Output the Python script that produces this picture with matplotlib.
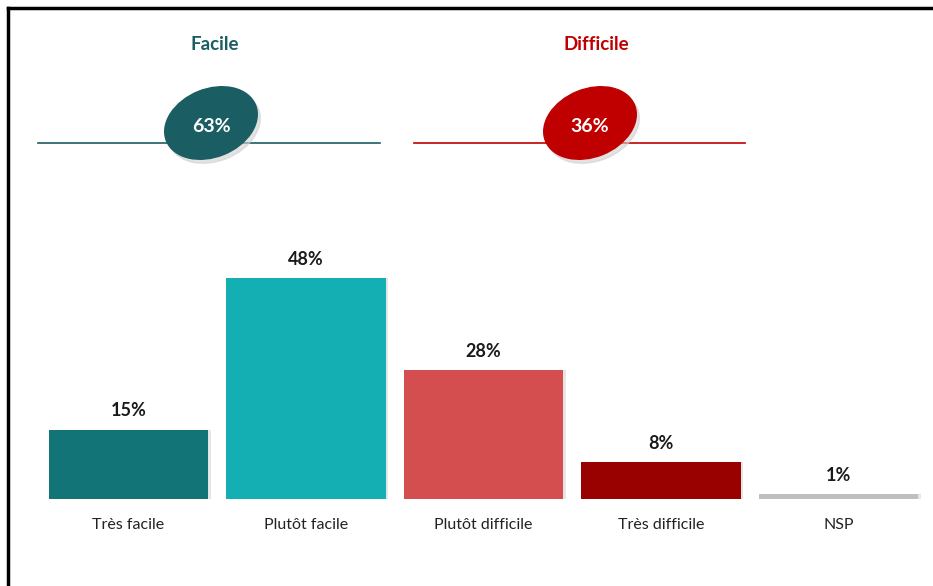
import matplotlib.pyplot as plt
from matplotlib.patches import Ellipse

plt.rcParams['font.family'] = ['Lato', 'DejaVu Sans']

# --- Data ---
categories = ['Très facile', 'Plutôt facile', 'Plutôt difficile', 'Très difficile', 'NSP']
values = [15, 48, 28, 8, 1]
bar_colors = ['#137478', '#14afb3', '#d44e50', '#990000', '#bfbfbf']

groups = ['Facile', 'Difficile']
group_totals = [63, 36]
group_colors = ['#1a5e63', '#c00000']

W, H = 933, 586
fig = plt.figure(figsize=(W / 100, H / 100), dpi=100)

# --- Bars ---
ax = fig.add_axes([39.75 / W, 87 / H, 887.5 / W, 253 / H])
x = range(len(categories))
# soft shadow
ax.bar([i + 0.012 for i in x], values, width=0.9, color='#e6e6e6', zorder=1)
ax.bar(x, values, width=0.9, color=bar_colors, zorder=2)
for i, v in enumerate(values):
    ax.text(i, v + 2.3, f'{v}%', ha='center', va='bottom', fontsize=13,
            fontweight='bold', color='#1a1a1a')
ax.set_xlim(-0.5, 4.5)
ax.set_ylim(0, 55)
ax.set_xticks(list(x))
ax.set_xticklabels(categories, fontsize=11.5, color='#222222')
ax.tick_params(axis='x', length=0, pad=14)
ax.set_yticks([])
for s in ax.spines.values():
    s.set_visible(False)
ax.patch.set_alpha(0)

# --- Top summary (pixel coordinates) ---
top = fig.add_axes([0, 0, 1, 1], zorder=-1)
top.set_xlim(0, W)
top.set_ylim(H, 0)
top.axis('off')

line_spans = [(38, 380), (414, 745)]
centers = [211, 590]
title_x = [215, 596]
for g, tot, col, (x0, x1), cx, tx in zip(groups, group_totals, group_colors,
                                         line_spans, centers, title_x):
    top.text(tx, 45, g, ha='center', va='center', fontsize=13.5,
             fontweight='bold', color=col)
    top.plot([x0, x1], [143, 143], color=col, lw=1.2)
    top.add_patch(Ellipse((cx + 3, 127), 96, 68, angle=-22,
                          color='#d0d0d0', alpha=0.6, zorder=3))
    top.add_patch(Ellipse((cx, 123), 96, 68, angle=-22, color=col, zorder=4))
    top.text(cx, 126, f'{tot}%', ha='center', va='center', fontsize=14,
             fontweight='bold', color='white', zorder=5)

# frame lines on left and top
top.plot([8, 8], [8, H], color='black', lw=2.5, clip_on=False)
top.plot([8, W], [8, 8], color='black', lw=2.5, clip_on=False)

fig.savefig('out.png', dpi=100)
